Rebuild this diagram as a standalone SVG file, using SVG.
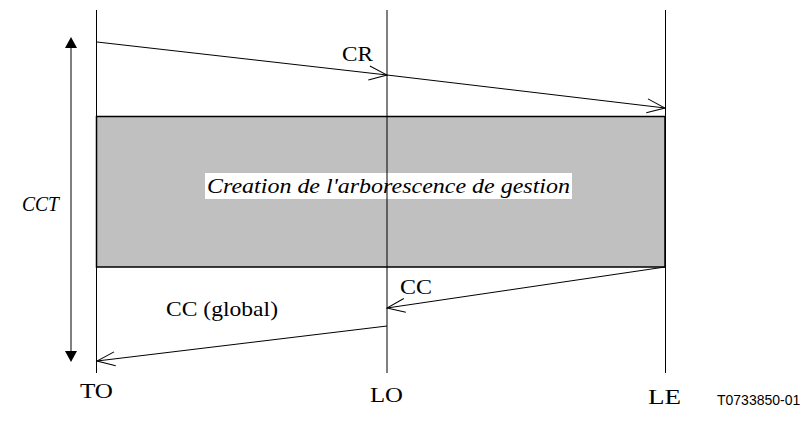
<svg xmlns="http://www.w3.org/2000/svg" width="801" height="426" viewBox="0 0 801 426">
<defs>
<marker id="open" markerUnits="userSpaceOnUse" markerWidth="24" markerHeight="20" viewBox="-20 -10 24 20" refX="0" refY="0" orient="auto">
<path d="M-18,-7 L0,0 L-18,7" fill="none" stroke="#000" stroke-width="1"/>
</marker>
</defs>
<style>
.ln{stroke:#000;stroke-width:1;fill:none}
.lbl{font-family:"Liberation Serif","Times New Roman",serif;font-size:22px;fill:#000}
.it{font-style:italic}
.code{font-family:"Liberation Sans",Arial,sans-serif;font-size:14px;fill:#000}
</style>
<rect width="801" height="426" fill="#fff"/>
<g id="activity">
<rect x="96.5" y="116.5" width="568.5" height="150.5" fill="#C0C0C0" stroke="#000" stroke-width="1.5"/>
<rect x="205" y="173" width="367" height="26" fill="#fff"/>
<text class="lbl it" x="207" y="193" textLength="363" lengthAdjust="spacingAndGlyphs">Creation de l'arborescence de gestion</text>
</g>
<g id="TO">
<line class="ln" x1="96.5" y1="10" x2="96.5" y2="373"/>
<text class="lbl" x="80" y="398" textLength="33" lengthAdjust="spacingAndGlyphs">TO</text>
</g>
<g id="LO">
<line class="ln" x1="387" y1="10" x2="387" y2="373"/>
<text class="lbl" x="370" y="402" textLength="33" lengthAdjust="spacingAndGlyphs">LO</text>
</g>
<g id="LE">
<line class="ln" x1="665.5" y1="10" x2="665.5" y2="373"/>
<text class="lbl" x="648" y="404" textLength="33" lengthAdjust="spacingAndGlyphs">LE</text>
</g>
<g id="CCT">
<line class="ln" x1="71" y1="47" x2="71" y2="352"/>
<polygon points="71,37 65,48 77,48" fill="#000"/>
<polygon points="71,362 65,351 77,351" fill="#000"/>
<text class="lbl it" x="22" y="211" textLength="37" lengthAdjust="spacingAndGlyphs">CCT</text>
</g>
<g id="connectors">
<line class="ln" x1="97" y1="42" x2="387" y2="75" marker-end="url(#open)"/>
<line class="ln" x1="387" y1="75" x2="665" y2="108" marker-end="url(#open)"/>
<line class="ln" x1="665" y1="267" x2="387" y2="308" marker-end="url(#open)"/>
<line class="ln" x1="387" y1="326" x2="97" y2="361" marker-end="url(#open)"/>
<text class="lbl" x="342" y="61" textLength="31" lengthAdjust="spacingAndGlyphs">CR</text>
<text class="lbl" x="400" y="294" textLength="32" lengthAdjust="spacingAndGlyphs">CC</text>
<text class="lbl" x="166" y="316" textLength="112" lengthAdjust="spacingAndGlyphs">CC (global)</text>
</g>
<text class="code" x="717" y="405">T0733850-01</text>
</svg>
